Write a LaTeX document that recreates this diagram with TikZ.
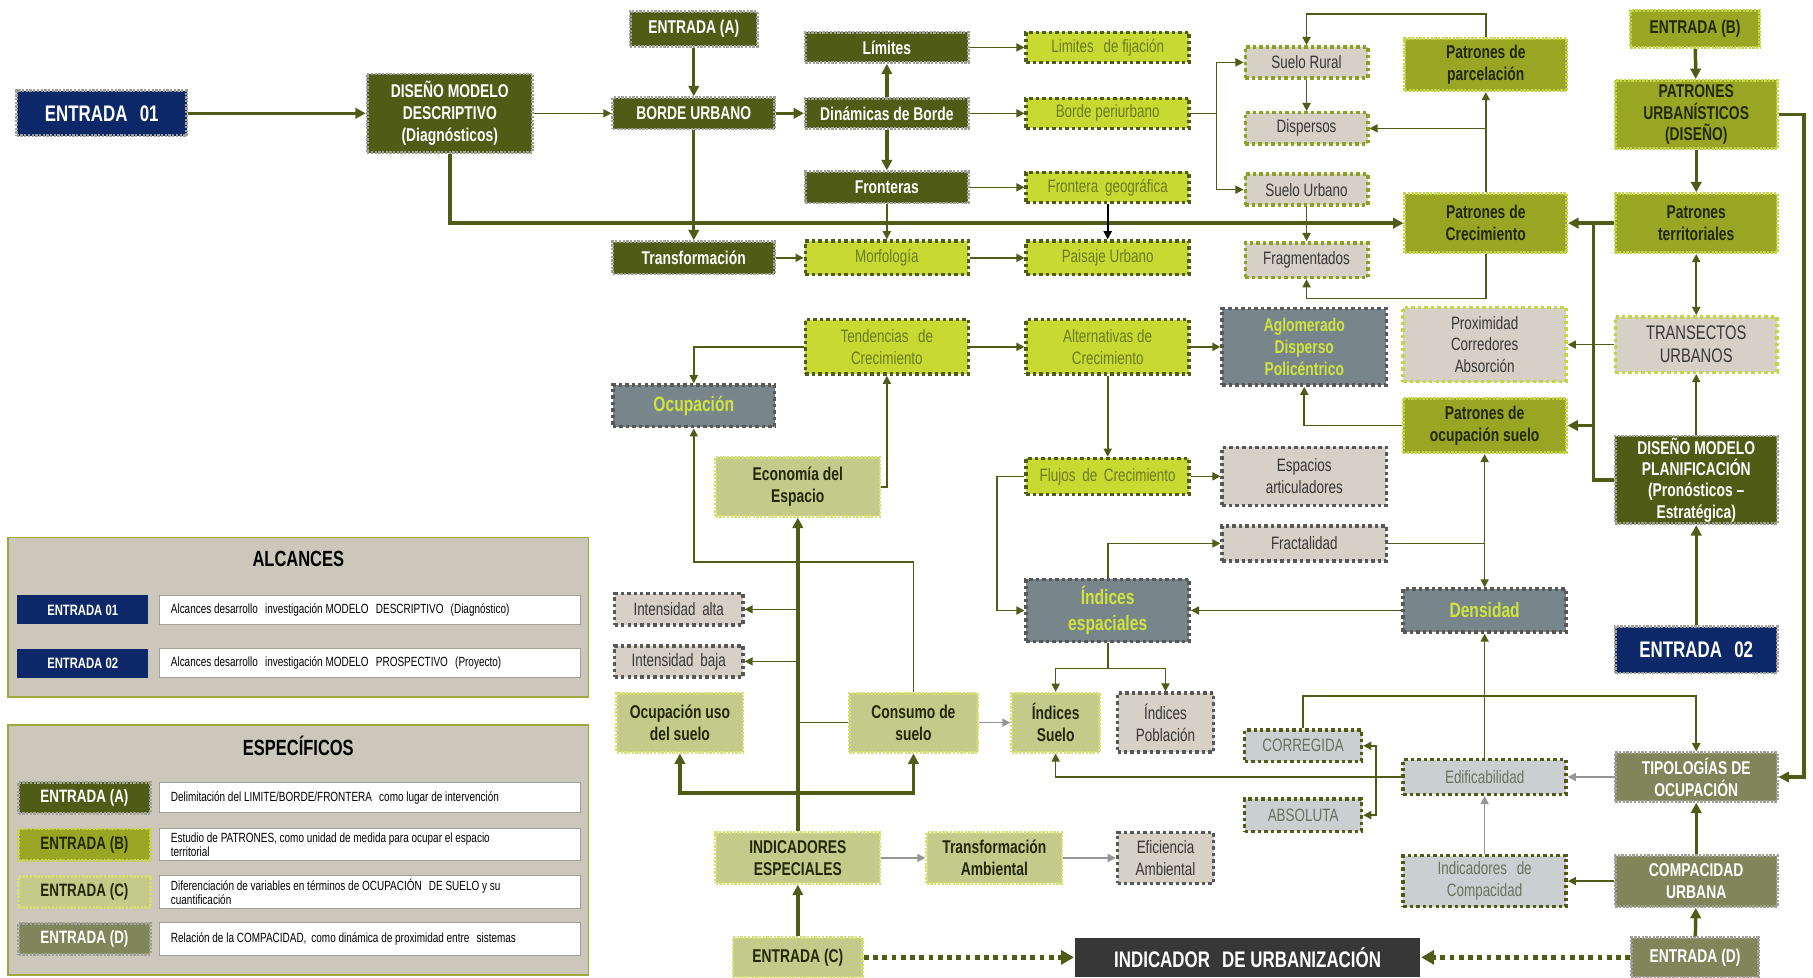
\documentclass[tikz,border=0pt]{standalone}
\usepackage{fontspec}
\setmainfont{Liberation Sans}[FakeStretch=0.75]
\usetikzlibrary{arrows.meta}
\newcommand{\myfs}[2]{\fontsize{#1}{#2}\selectfont}

\definecolor{navyc}{RGB}{12,40,104}
\definecolor{darkol}{RGB}{80,91,22}
\definecolor{limec}{RGB}{200,218,50}
\definecolor{limetxt}{RGB}{108,122,34}
\definecolor{olivec}{RGB}{152,166,36}
\definecolor{blackol}{RGB}{35,40,10}
\definecolor{beigec}{RGB}{214,208,198}
\definecolor{slatec}{RGB}{120,133,138}
\definecolor{slatetxt}{RGB}{208,228,62}
\definecolor{khakic}{RGB}{196,203,138}
\definecolor{khakib}{RGB}{214,224,112}
\definecolor{bluegc}{RGB}{202,208,210}
\definecolor{bluetxt}{RGB}{105,112,95}
\definecolor{greyol}{RGB}{128,134,90}
\definecolor{charc}{RGB}{55,55,55}
\definecolor{bordgrey}{RGB}{160,160,150}
\definecolor{olbord}{RGB}{140,160,36}
\definecolor{limebord}{RGB}{196,214,70}
\definecolor{dgreyb}{RGB}{88,88,88}
\definecolor{dgtxt}{RGB}{55,55,55}
\definecolor{legbg}{RGB}{203,199,186}
\definecolor{legbd}{RGB}{160,168,60}
\definecolor{greyline}{RGB}{150,150,150}

\tikzset{
  box/.style={rectangle, align=center, inner sep=1pt, line width=2.4pt},
  wh/.style 2 args={minimum width=#1pt, minimum height=#2pt},
  stitch/.style={dash pattern=on 2pt off 1.2pt},
  dots/.style={line width=3pt, dash pattern=on 3pt off 2.6pt},
  snavy/.style={box, stitch, fill=navyc, draw=bordgrey, text=white, font=\bfseries\myfs{19.5}{22}},
  sdark/.style={box, stitch, fill=darkol, draw=bordgrey, text=white, font=\bfseries\myfs{16}{19}},
  slime/.style={box, dots, fill=limec, draw=darkol, text=limetxt, font=\myfs{15.5}{19}},
  sbeige/.style={box, dots, fill=beigec, draw=olbord, text=dgtxt, font=\myfs{15.5}{19}},
  sbeigel/.style={box, dots, fill=beigec, draw=limebord, text=dgtxt, font=\myfs{15.5}{19}},
  sbeigeg/.style={box, dots, fill=beigec, draw=dgreyb, text=dgtxt, font=\myfs{15.5}{19}},
  solive/.style={box, stitch, fill=olivec, draw=limebord, text=blackol, font=\bfseries\myfs{16}{19}},
  sslate/.style={box, dots, fill=slatec, draw=dgreyb, text=slatetxt, font=\bfseries\myfs{18}{22}},
  skhaki/.style={box, stitch, fill=khakic, draw=khakib, text=blackol, font=\bfseries\myfs{16}{19}},
  sblue/.style={box, dots, fill=bluegc, draw=darkol, text=bluetxt, font=\myfs{15.5}{19}},
  sgol/.style={box, stitch, fill=greyol, draw=bordgrey, text=white, font=\bfseries\myfs{16}{19}},
  schar/.style={box, fill=charc, draw=none, text=white, font=\bfseries\myfs{19.5}{22}},
  thk/.style={draw=darkol, line width=3pt, -{Triangle[length=9pt,width=9pt]}},
  thkn/.style={draw=darkol, line width=3pt},
  thn/.style={draw=darkol, line width=1.4pt, -{Triangle[length=7pt,width=7pt]}},
  thnn/.style={draw=darkol, line width=1.4pt},
  gry/.style={draw=greyline, line width=1.4pt, -{Triangle[length=7pt,width=7pt,fill=greyline]}},
  dotarrow/.style={draw=darkol, line width=4pt, dash pattern=on 4pt off 4pt, -{Triangle[length=11pt,width=12pt]}},
  legbox/.style={rectangle, fill=legbg, draw=legbd, line width=1.4pt},
  legtag/.style={rectangle, inner sep=0pt, text=white, font=\bfseries\myfs{13}{15}},
  legtxt/.style={rectangle, fill=white, draw=bordgrey, line width=0.8pt, inner sep=0pt},
  legline/.style={anchor=west, align=left, inner sep=0pt, font=\myfs{11.5}{12.5}, text=black},
  legtitle/.style={font=\bfseries\myfs{19}{21}, text=black}
}

\begin{document}
\begin{tikzpicture}[x=1pt,y=-1pt]
\useasboundingbox (0,0) rectangle (1568,845);

% ---------- descriptive model (upper band) ----------
\node[snavy, wh={147}{39}] (e01) at (88,98) {ENTRADA\,\, 01};
\node[sdark, wh={143}{68}] (desc) at (389,98) {DISEÑO MODELO\\DESCRIPTIVO\\(Diagnósticos)};
\node[sdark, wh={110}{30}] (entA) at (600,25) {ENTRADA (A)};
\node[sdark, wh={140}{27}] (borde) at (600,98) {BORDE URBANO};
\node[sdark, wh={141}{26}] (lim) at (767,41) {Límites};
\node[sdark, wh={141}{26}] (din) at (767,98) {Dinámicas de Borde};
\node[sdark, wh={141}{27}] (fro) at (767,162) {Fronteras};
\node[sdark, wh={140}{28}] (transf) at (600,223) {Transformación};
\node[slime, wh={141}{26}] (limfij) at (958,41) {Limites\,\, de fijación};
\node[slime, wh={141}{26}] (bperi) at (958,98) {Borde periurbano};
\node[slime, wh={141}{26}] (frogeo) at (958,162) {Frontera\, geográfica};
\node[slime, wh={141}{29}] (morf) at (767,223) {Morfología};
\node[slime, wh={141}{29}] (paisaje) at (958,223) {Paisaje Urbano};
\node[sbeige, wh={106}{27}] (srural) at (1130,54) {Suelo Rural};
\node[sbeige, wh={106}{27}] (disp) at (1130,111) {Dispersos};
\node[sbeige, wh={106}{27}] (surb) at (1130,164) {Suelo Urbano};
\node[sbeige, wh={106}{30}] (frag) at (1130,225) {Fragmentados};
\node[solive, wh={140}{45}] (parcel) at (1285,56) {Patrones de\\parcelación};
\node[solive, wh={140}{51}] (crec) at (1285,193) {Patrones de\\Crecimiento};
\node[solive, wh={112}{32}] (entB) at (1466,25) {ENTRADA (B)};
\node[solive, wh={140}{59}] (purb) at (1467,99) {PATRONES\\URBANÍSTICOS\\(DISEÑO)};
\node[solive, wh={140}{51}] (pterr) at (1467,193) {Patrones\\territoriales};

% ---------- middle band ----------
\node[slime, wh={141}{47}] (tend) at (767,300) {Tendencias\,\, de\\Crecimiento};
\node[slime, wh={141}{47}] (alt) at (958,300) {Alternativas de\\Crecimiento};
\node[sslate, wh={142}{66}, font=\bfseries\myfs{16}{19}] (aglo) at (1128,300) {Aglomerado\\Disperso\\Policéntrico};
\node[sbeigel, wh={141}{64}] (prox) at (1284,298) {Proximidad\\Corredores\\Absorción};
\node[sbeigel, wh={140}{48}, font=\myfs{17}{20}] (transec) at (1467,298) {TRANSECTOS\\URBANOS};
\node[sslate, wh={140}{36}] (ocup) at (600,351) {Ocupación};
\node[solive, wh={141}{47}] (pocup) at (1284,368) {Patrones de\\ocupación suelo};
\node[sdark, wh={140}{76}, font=\bfseries\myfs{16}{18.5}] (planif) at (1467,415) {DISEÑO MODELO\\PLANIFICACIÓN\\(Pronósticos --\\Estratégica)};
\node[skhaki, wh={142}{51}] (econ) at (690,421) {Economía del\\Espacio};
\node[slime, wh={141}{31}] (flujos) at (958,412) {Flujos\, de\, Crecimiento};
\node[sbeigeg, wh={142}{50}] (espart) at (1128,412) {Espacios\\articuladores};
\node[sbeigeg, wh={142}{30}] (fract) at (1128,470) {Fractalidad};
\node[sslate, wh={141}{54}] (iesp) at (958,528) {Índices\\espaciales};
\node[sslate, wh={141}{37}] (dens) at (1284,528) {Densidad};
\node[snavy, wh={140}{40}] (e02) at (1467,562) {ENTRADA\,\, 02};

% ---------- lower band ----------
\node[sbeigeg, wh={111}{27}] (ialta) at (587,527) {Intensidad\, alta};
\node[sbeigeg, wh={111}{27}] (ibaja) at (587,572) {Intensidad\, baja};
\node[skhaki, wh={109}{51}] (ocuso) at (588,625) {Ocupación uso\\del suelo};
\node[skhaki, wh={111}{51}] (consumo) at (790,625) {Consumo de\\suelo};
\node[skhaki, wh={76}{51}] (isuelo) at (913,625) {Índices\\Suelo};
\node[sbeigeg, wh={83}{51}] (ipob) at (1008,625) {Índices\\Población};
\node[sblue, wh={101}{27}] (correg) at (1127,645) {CORREGIDA};
\node[sblue, wh={141}{30}] (edif) at (1284,672) {Edificabilidad};
\node[sgol, wh={140}{42}] (tipol) at (1467,672) {TIPOLOGÍAS DE\\OCUPACIÓN};
\node[sblue, wh={101}{28}] (absol) at (1127,705) {ABSOLUTA};
\node[skhaki, wh={142}{44}] (indesp) at (690,742) {INDICADORES\\ESPECIALES};
\node[skhaki, wh={117}{44}] (tamb) at (860,742) {Transformación\\Ambiental};
\node[sbeigeg, wh={83}{44}] (efic) at (1008,742) {Eficiencia\\Ambiental};
\node[sblue, wh={141}{44}] (icomp) at (1284,762) {Indicadores\,\, de\\Compacidad};
\node[sgol, wh={140}{44}] (compac) at (1467,762) {COMPACIDAD\\URBANA};
\node[skhaki, wh={112}{34}] (entC) at (690,828) {ENTRADA (C)};
\node[schar, wh={298}{34}] (indurb) at (1079,828) {INDICADOR\,\, DE URBANIZACIÓN};
\node[sgol, wh={110}{34}] (entD) at (1466,828) {ENTRADA (D)};

% ---------- connectors: descriptive band ----------
\draw[thk] (e01) -- (desc);
\draw[thn] (desc) -- (borde);
\draw[thk] (desc.south) |- (crec.west);
\draw[thk] (entA) -- (borde);
\draw[thk] (borde) -- (transf);
\draw[thk] (borde) -- (din);
\draw[thk] (din) -- (lim);
\draw[thk] (din) -- (fro);
\draw[thn] (lim) -- (limfij);
\draw[thn] (din) -- (bperi);
\draw[thn] (fro) -- (frogeo);
\draw[thn] (fro) -- (morf);
\draw[thn] (transf) -- (morf);
\draw[thn] (morf) -- (paisaje);
\draw[thn, draw=black, -{Triangle[length=7pt,width=7pt]}] (frogeo) -- (paisaje);
\coordinate (bk1) at (1052,98);
\draw[thnn] (bperi.east) -- (bk1);
\draw[thn] (bk1) |- (srural.west);
\draw[thn] (bk1) |- (surb.west);
\draw[thn] (srural) -- (disp);
\draw[thn] (surb) -- (frag);
\coordinate (top1) at (1285,12);
\draw[thn] (parcel.north) -- (top1) -| (srural.north);
\draw[thn] (crec) -- (parcel);
\draw[thn] (crec.north |- disp.east) -- (disp.east);
\coordinate (bot1) at (1285,258);
\draw[thn] (crec.south) -- (bot1) -| (frag.south);
\draw[thk] (entB) -- (purb);
\draw[thk] (purb) -- (pterr);
\coordinate (rt) at (1560,99);
\draw[thk] (purb.east) -- (rt) |- (tipol.east);
\draw[thk] (pterr) -- (crec);
\coordinate (jA) at (1378,193);
\draw[thkn] (planif.west) -- (planif.west -| jA) -- (jA);
\draw[thk] (jA |- pocup.east) -- (pocup.east);

% ---------- connectors: middle band ----------
\draw[thn, {Triangle[length=7pt,width=7pt]}-{Triangle[length=7pt,width=7pt]}] (transec) -- (pterr);
\draw[thn] (planif) -- (transec);
\draw[thk] (e02) -- (planif);
\draw[thn] (transec) -- (prox);
\draw[thn] (pocup.west) -| (aglo.south);
\draw[thn, {Triangle[length=7pt,width=7pt]}-{Triangle[length=7pt,width=7pt]}] (pocup) -- (dens);
\draw[thnn] (fract.east) -- (fract.east -| pocup.south);
\draw[thn] (dens) -- (iesp);
\draw[thn] (edif) -- (dens);
\draw[thn] (iesp.north) |- (fract.west);
\draw[thn] (alt) -- (aglo);
\draw[thn] (tend) -- (alt);
\draw[thn] (tend.west) -| (ocup.north);
\draw[thn] (alt) -- (flujos);
\draw[thn] (flujos) -- (espart);
\coordinate (fl) at (862,412);
\draw[thn] (flujos.west) -- (fl) |- (iesp.west);
\draw[thn] (econ.east) -| (tend.south);

% ---------- connectors: lower band ----------
\draw[thk] (indesp) -- (econ);
\draw[thn] (indesp.north |- ialta.east) -- (ialta.east);
\draw[thn] (indesp.north |- ibaja.east) -- (ibaja.east);
\draw[thnn] (indesp.north |- consumo.west) -- (consumo.west);
\coordinate (hb) at (690,686);
\draw[thk] (hb) -| (ocuso.south);
\draw[thk] (hb) -| (consumo.south);
\coordinate (cu) at (790,486);
\draw[thn] (consumo.north) -- (cu) -| (ocup.south);
\draw[gry] (consumo) -- (isuelo);
\coordinate (sp) at (958,578);
\draw[thnn] (iesp.south) -- (sp);
\draw[thn] (sp) -| (isuelo.north);
\draw[thn] (sp) -| (ipob.north);
\draw[thn] (edif.west) -| (isuelo.south);
\coordinate (bk2) at (1190,672);
\draw[thn] (bk2) |- (correg.east);
\draw[thn] (bk2) |- (absol.east);
\coordinate (tp) at (1127,602);
\draw[thn] (correg.north) -- (tp) -| (tipol.north);
\draw[gry] (tipol) -- (edif);
\draw[gry] (icomp) -- (edif);
\draw[thn] (compac) -- (icomp);
\draw[thk] (compac) -- (tipol);
\draw[thk] (entD) -- (compac);
\draw[dotarrow] (entD) -- (indurb);
\draw[dotarrow] (entC) -- (indurb);
\draw[thk] (entC) -- (indesp);
\draw[gry] (indesp) -- (tamb);
\draw[gry] (tamb) -- (efic);

% ---------- legend: ALCANCES ----------
\node[legbox, wh={502}{138}] (alc) at (258,534) {};
\node[legtitle] (alct) at (258,483) {ALCANCES};
\node[legtag, fill=navyc, wh={113}{25}] (la1) at (71.5,527.5) {ENTRADA 01};
\node[legtxt, wh={364}{25}] (lt1) at (320,527.5) {};
\node[legline] (ll1) at (lt1.west) [xshift=10pt] {Alcances desarrollo\,\, investigación MODELO\,\, DESCRIPTIVO\,\, (Diagnóstico)};
\node[legtag, fill=navyc, wh={113}{25}] (la2) at (71.5,573.5) {ENTRADA 02};
\node[legtxt, wh={364}{25}] (lt2) at (320,573.5) {};
\node[legline] (ll2) at (lt2.west) [xshift=10pt] {Alcances desarrollo\,\, investigación MODELO\,\, PROSPECTIVO\,\, (Proyecto)};

% ---------- legend: ESPECÍFICOS ----------
\node[legbox, wh={502}{216}] (esp) at (258,735) {};
\node[legtitle] (espt) at (258,645) {ESPECÍFICOS};
\node[sdark, wh={114}{27}, font=\bfseries\myfs{15.5}{17}] (lb1) at (73,690) {ENTRADA (A)};
\node[legtxt, wh={364}{26}] (lu1) at (320,690) {};
\node[legline] (lv1) at (lu1.west) [xshift=10pt] {Delimitación del LIMITE/BORDE/FRONTERA\,\, como lugar de intervención};
\node[solive, wh={114}{27}, font=\bfseries\myfs{15.5}{17}] (lb2) at (73,730.5) {ENTRADA (B)};
\node[legtxt, wh={364}{28}] (lu2) at (320,730.5) {};
\node[legline] (lv2) at (lu2.west) [xshift=10pt] {Estudio de PATRONES, como unidad de medida para ocupar el espacio\\territorial};
\node[skhaki, wh={114}{27}, font=\bfseries\myfs{15.5}{17}] (lb3) at (73,771.5) {ENTRADA (C)};
\node[legtxt, wh={364}{29}] (lu3) at (320,771.5) {};
\node[legline] (lv3) at (lu3.west) [xshift=10pt] {Diferenciación de variables en términos de OCUPACIÓN\,\, DE SUELO y su\\cuantificación};
\node[sgol, wh={114}{27}, font=\bfseries\myfs{15.5}{17}] (lb4) at (73,812) {ENTRADA (D)};
\node[legtxt, wh={364}{28}] (lu4) at (320,812) {};
\node[legline] (lv4) at (lu4.west) [xshift=10pt] {Relación de la COMPACIDAD,\, como dinámica de proximidad entre\,\, sistemas};
\end{tikzpicture}
\end{document}
